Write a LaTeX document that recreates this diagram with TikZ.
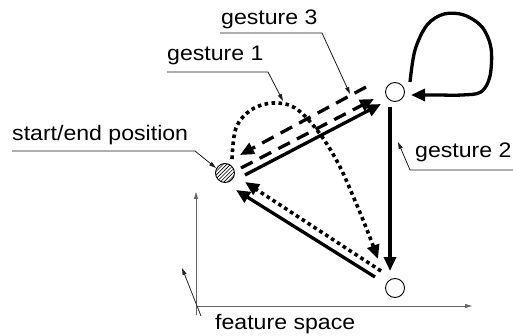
\documentclass[tikz,border=0pt]{standalone}
\usepackage{fontspec}
\setmainfont[FakeStretch=1.1]{Liberation Sans}
\usetikzlibrary{arrows.meta,patterns.meta}
\begin{document}
\begin{tikzpicture}[x=1pt,y=-1pt,
  state/.style={circle,draw=black,line width=0.9pt,minimum size=19pt,inner sep=0pt,fill=white},
  big/.style={line width=3.3pt,-{Triangle[length=14pt,width=12pt]}},
  dashedbig/.style={big,dash pattern=on 13pt off 8pt},
  dottedbig/.style={big,line width=3.6pt,dash pattern=on 3.6pt off 3.4pt},
  ptr/.style={draw=black!90,line width=0.8pt,-{Triangle[length=7pt,width=4pt]}},
  axis/.style={line width=0.9pt,-{Triangle[length=7pt,width=4pt]}},
  lbl/.style={anchor=base west,inner sep=0pt,font=\fontsize{21}{25}\selectfont}]
\useasboundingbox (0,0) rectangle (513,336);
% states
\node[state,pattern={Lines[angle=45,distance=2.6pt,line width=0.6pt]}] (S) at (225,173) {};
\node[state] (A) at (395,92) {};
\node[state] (B) at (395,288) {};
% axes
\coordinate (ax0) at (196,315);
\coordinate (axy) at (196,192);
\coordinate (axo) at (196,306);
\coordinate (axx) at (472,306);
\coordinate (axz0) at (201,316);
\coordinate (axz) at (182,268);
\draw[axis,draw=black!60] (ax0) -- (axy);
\draw[axis,draw=black!60] (axo) -- (axx);
\draw[axis,draw=black!85,line width=0.8pt] (axz0) -- (axz);
% connector end points
\coordinate (sa1) at (245,175);
\coordinate (sa2) at (381,104);
\coordinate (sd1) at (241,168);
\coordinate (sd2) at (374,99);
\coordinate (as1) at (366,87);
\coordinate (as2) at (240,155);
\coordinate (ab1) at (390,107);
\coordinate (ab2) at (390,271);
\coordinate (bs1) at (375,277);
\coordinate (bs2) at (236,190);
\coordinate (bd1) at (381,271);
\coordinate (bd2) at (245,182);
\coordinate (g1a) at (232,159);
\coordinate (g1b) at (378,259);
\coordinate (lp1) at (410,82);
\coordinate (lp2) at (411,95);
% gesture 3 (dashed, there and back)
\draw[dashedbig] (sd1) -- (sd2);
\draw[dashedbig] (as1) -- (as2);
% solid triangle
\draw[big] (sa1) -- (sa2);
\draw[big] (ab1) -- (ab2);
\draw[big] (bs1) -- (bs2);
% gesture 1 dotted
\draw[dottedbig] plot[smooth,tension=0.6] coordinates {(g1a) (236,128) (251,110) (273,103) (295,108) (317,130) (338,163) (356,203) (369,235) (g1b)};
\draw[dottedbig] (bd1) -- (bd2);
% loop
\draw[big] plot[smooth,tension=0.55] coordinates {(lp1) (415,50) (427,25) (444,14) (464,15) (482,27) (491,48) (490,76) (481,92) (462,95) (440,95)} -- (lp2);
% labels
\node[lbl] (l3) at (221,25) {gesture 3};
\node[lbl] (l1) at (167,61) {gesture 1};
\node[lbl] (ls) at (12,141) {start/end position};
\node[lbl] (l2) at (415,158) {gesture 2};
\node[lbl] (lf) at (215,329) {feature space};
% pointers
\coordinate (p3a) at (220,33);
\coordinate (p3b) at (322,33);
\coordinate (p3c) at (350,94);
\draw[ptr] (p3a) -- (p3b) -- (p3c);
\coordinate (p1a) at (167,72);
\coordinate (p1b) at (268,72);
\coordinate (p1c) at (283,101);
\draw[ptr] (p1a) -- (p1b) -- (p1c);
\coordinate (psa) at (12,151);
\coordinate (psb) at (195,151);
\coordinate (psc) at (216,168);
\draw[ptr] (psa) -- (psb) -- (psc);
\coordinate (p2a) at (513,170);
\coordinate (p2b) at (410,170);
\coordinate (p2c) at (398,142);
\draw[ptr] (p2a) -- (p2b) -- (p2c);
\end{tikzpicture}
\end{document}
